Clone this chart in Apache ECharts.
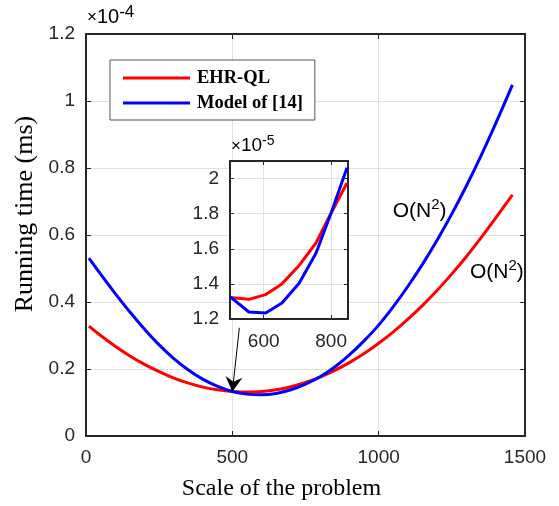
<!DOCTYPE html>
<html><head><meta charset="utf-8">
<script src="https://cdn.jsdelivr.net/npm/echarts@6/dist/echarts.min.js"></script>
<style>html,body{margin:0;padding:0;background:#fff}#c{width:559px;height:506px}</style>
</head><body><div id="c"></div>
<script>
// Main plot data (y in units of 1e-4 ms)
const mainX    = [10, 50, 100, 150, 200, 250, 300, 350, 400, 450, 500, 550, 600, 650, 700, 750, 800, 850, 900, 950, 1000, 1050, 1100, 1150, 1200, 1250, 1300, 1350, 1400, 1457];
const redMain  = [0.328, 0.300, 0.268, 0.239, 0.214, 0.192, 0.173, 0.158, 0.146, 0.138, 0.133, 0.131, 0.133, 0.138, 0.147, 0.160, 0.176, 0.196, 0.219, 0.246, 0.277, 0.311, 0.349, 0.390, 0.435, 0.484, 0.536, 0.592, 0.651, 0.720];
const blueMain = [0.531, 0.483, 0.425, 0.370, 0.319, 0.272, 0.231, 0.197, 0.169, 0.148, 0.133, 0.125, 0.123, 0.127, 0.138, 0.155, 0.177, 0.206, 0.242, 0.284, 0.331, 0.386, 0.447, 0.513, 0.585, 0.663, 0.747, 0.837, 0.933, 1.048];
// Inset data (y in units of 1e-5 ms)
const insetX    = [500, 556, 606, 654, 705, 755, 800, 847];
const redInset  = [1.322, 1.312, 1.339, 1.400, 1.505, 1.633, 1.804, 1.975];
const blueInset = [1.327, 1.240, 1.234, 1.291, 1.404, 1.575, 1.804, 2.061];
const insetXTicks = [600, 800];
const insetYTicks = [1.2, 1.4, 1.6, 1.8, 2.0];
const seriesNames = ['EHR-QL', 'Model of [14]'];
const colors = ['#ff0000', '#0000ff'];
// Annotations (data coords)
const arrowFrom = [524, 0.323];
const arrowTo = [500, 0.132];
const blueLabelPos = [1048, 0.671];
const redLabelPos = [1312, 0.49];

const pair = (xs, ys) => xs.map((x, i) => [x, ys[i]]);
const sans = "'Liberation Sans', Arial, Helvetica, sans-serif";
const serif = "'Liberation Serif', 'Times New Roman', serif";
const axisCol = '#262626';
const gridCol = '#e1e1e1';

const chart = echarts.init(document.getElementById('c'), null, {renderer: 'canvas'});

function mkAxis(o) {
  return Object.assign({
    type: 'value',
    axisLine: {show: true, onZero: false, lineStyle: {color: axisCol, width: 2}},
    axisTick: {show: true, inside: true, length: 5, lineStyle: {color: axisCol, width: 1}},
    axisLabel: {show: false},
    splitLine: {show: false}
  }, o);
}
const plain = (v) => String(Math.round(v * 1000) / 1000);
const lbl = (m) => ({show: true, margin: m, fontSize: 19, fontFamily: sans, color: axisCol, formatter: plain});

const option = {
  animation: false,
  backgroundColor: '#fff',
  grid: [
    {left: 86, right: 34, top: 34, bottom: 68},
    {left: 230, right: 211, top: 161, bottom: 187, show: true, backgroundColor: '#fff', borderWidth: 0, z: 10}
  ],
  legend: {
    data: seriesNames,
    orient: 'vertical',
    left: 110, top: 60,
    padding: [8, 12, 7, 13],
    itemGap: 5,
    itemWidth: 67, itemHeight: 14,
    backgroundColor: '#fff',
    borderColor: '#555', borderWidth: 1,
    textStyle: {fontFamily: serif, fontWeight: 'bold', fontSize: 18.5, color: '#000', lineHeight: 20, padding: [0, 0, 0, 2]},
    icon: 'path://M0,0 L67,0 L67,3 L0,3 Z'
  },
  xAxis: [
    mkAxis({gridIndex: 0, min: 0, max: 1500, interval: 500, position: 'bottom',
      axisLabel: lbl(12),
      splitLine: {show: true, lineStyle: {color: gridCol, width: 1}},
      name: 'Scale of the problem', nameLocation: 'middle', nameGap: 41,
      nameTextStyle: {fontFamily: serif, fontSize: 24, color: '#000', padding: [0, 48, 0, 0]}}),
    mkAxis({gridIndex: 0, min: 0, max: 1500, interval: 500, position: 'top'}),
    mkAxis({gridIndex: 1, min: 500, max: 850, position: 'bottom', z: 11,
      axisLabel: Object.assign(lbl(13), {customValues: insetXTicks}),
      axisTick: {show: true, inside: true, length: 4, customValues: insetXTicks, lineStyle: {color: axisCol}},
      splitLine: {show: true, lineStyle: {color: gridCol, width: 1}}}),
    mkAxis({gridIndex: 1, min: 500, max: 850, position: 'top', z: 11,
      axisTick: {show: true, inside: true, length: 4, customValues: insetXTicks, lineStyle: {color: axisCol}}})
  ],
  yAxis: [
    mkAxis({gridIndex: 0, min: 0, max: 1.2, interval: 0.2, position: 'left',
      axisLabel: lbl(11),
      splitLine: {show: true, lineStyle: {color: gridCol, width: 1}},
      name: 'Running time (ms)', nameLocation: 'middle', nameGap: 46,
      nameTextStyle: {fontFamily: serif, fontSize: 26, color: '#000', padding: [0, 0, 0, 42]}}),
    mkAxis({gridIndex: 0, min: 0, max: 1.2, interval: 0.2, position: 'right'}),
    mkAxis({gridIndex: 1, min: 1.2, max: 2.1, position: 'left', z: 11,
      axisLabel: Object.assign(lbl(11), {customValues: insetYTicks}),
      axisTick: {show: true, inside: true, length: 4, customValues: insetYTicks, lineStyle: {color: axisCol}},
      splitLine: {show: true, lineStyle: {color: gridCol, width: 1}}}),
    mkAxis({gridIndex: 1, min: 1.2, max: 2.1, position: 'right', z: 11,
      axisTick: {show: true, inside: true, length: 4, customValues: insetYTicks, lineStyle: {color: axisCol}}})
  ],
  series: [
    {name: seriesNames[0], type: 'line', xAxisIndex: 0, yAxisIndex: 0, data: pair(mainX, redMain),
      smooth: 0.3, symbol: 'none', lineStyle: {color: colors[0], width: 3}, itemStyle: {color: colors[0]}, z: 3,
      markLine: {silent: true, symbol: ['none', 'none'], label: {show: false},
        lineStyle: {color: '#000', width: 1, type: 'solid'},
        data: [[{coord: arrowFrom}, {coord: arrowTo}]]}},
    {name: seriesNames[1], type: 'line', xAxisIndex: 0, yAxisIndex: 0, data: pair(mainX, blueMain),
      smooth: 0.3, symbol: 'none', lineStyle: {color: colors[1], width: 3}, itemStyle: {color: colors[1]}, z: 3},
    {name: 'inset-red', type: 'line', xAxisIndex: 2, yAxisIndex: 2, data: pair(insetX, redInset),
      symbol: 'none', lineStyle: {color: colors[0], width: 3}, z: 12},
    {name: 'inset-blue', type: 'line', xAxisIndex: 2, yAxisIndex: 2, data: pair(insetX, blueInset),
      symbol: 'none', lineStyle: {color: colors[1], width: 3}, z: 12}
  ]
};
chart.setOption(option);

// Annotations placed through the library's coordinate conversion
const toPx = (gi, p) => chart.convertToPixel({xAxisIndex: gi === 0 ? 0 : 2, yAxisIndex: gi === 0 ? 0 : 2}, p);
const mainTL = toPx(0, [0, 1.2]);
const insetTL = toPx(1, [500, 2.1]);
const tip = toPx(0, arrowTo), tail = toPx(0, arrowFrom);
const dx = tip[0] - tail[0], dy = tip[1] - tail[1];
const L = Math.hypot(dx, dy), ux = dx / L, uy = dy / L, nx = -uy, ny = ux;
const hl = 15, hw = 8.5, notch = 10;
const back = [tip[0] - ux * hl, tip[1] - uy * hl];
const head = [
  tip,
  [back[0] + nx * hw, back[1] + ny * hw],
  [tip[0] - ux * notch, tip[1] - uy * notch],
  [back[0] - nx * hw, back[1] - ny * hw]
];
const richSup = {
  x: {fontSize: 17, fontFamily: sans, color: axisCol, lineHeight: 26},
  a: {fontSize: 20, fontFamily: sans, color: axisCol, lineHeight: 26},
  b: {fontSize: 17, fontFamily: sans, color: axisCol, lineHeight: 17, verticalAlign: 'top'}
};
const richSup5 = {
  x: {fontSize: 17, fontFamily: sans, color: axisCol, lineHeight: 24},
  a: {fontSize: 19, fontFamily: sans, color: axisCol, lineHeight: 24},
  b: {fontSize: 14, fontFamily: sans, color: axisCol, lineHeight: 14, verticalAlign: 'top'}
};
const richO = {
  a: {fontSize: 21, fontFamily: sans, color: '#000', lineHeight: 27},
  b: {fontSize: 15, fontFamily: sans, color: '#000', lineHeight: 15, verticalAlign: 'top'}
};
const bl = toPx(0, blueLabelPos), rl = toPx(0, redLabelPos);
chart.setOption({
  graphic: [
    {type: 'polygon', z: 20, shape: {points: head}, style: {fill: '#000'}},
    {type: 'text', z: 20, x: mainTL[0] + 1, y: mainTL[1] - 30, style: {text: '{x|×}{a|10}{b|-4}', rich: richSup}},
    {type: 'text', z: 20, x: insetTL[0] + 1, y: insetTL[1] - 27, style: {text: '{x|×}{a|10}{b|-5}', rich: richSup5}},
    {type: 'text', z: 20, x: bl[0], y: bl[1], style: {text: '{a|O(N}{b|2}{a|)}', rich: richO, verticalAlign: 'middle'}},
    {type: 'text', z: 20, x: rl[0], y: rl[1], style: {text: '{a|O(N}{b|2}{a|)}', rich: richO, verticalAlign: 'middle'}}
  ]
});
</script></body></html>
